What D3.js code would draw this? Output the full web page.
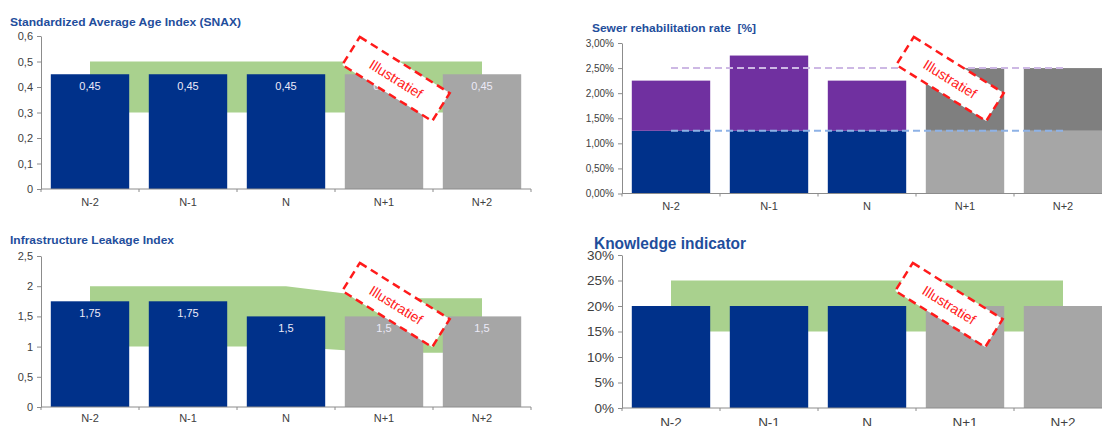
<!DOCTYPE html>
<html>
<head>
<meta charset="utf-8">
<script src="https://cdn.jsdelivr.net/npm/d3@7"></script>
<style>
  body { margin: 0; background: #fff; }
  svg { display: block; font-family: "Liberation Sans", Arial, sans-serif; }
  .title { white-space: pre; }
</style>
</head>
<body>
<svg id="chart" width="1102" height="426"></svg>
<script>
// categories shared by all four panels
const categories = ["N-2", "N-1", "N", "N+1", "N+2"];
const isForecast = [false, false, false, true, true];

// Standardized Average Age Index
const snaxValues = [0.45, 0.45, 0.45, 0.45, 0.45];
const snaxLabels = ["0,45", "0,45", "0,45", "0,45", "0,45"];
const snaxBandLow = [0.3, 0.3, 0.3, 0.3, 0.3];
const snaxBandHigh = [0.5, 0.5, 0.5, 0.5, 0.5];
const snaxTicks = [0, 0.1, 0.2, 0.3, 0.4, 0.5, 0.6];

// Sewer rehabilitation rate (stacked)
const sewerBase = [0.0125, 0.0125, 0.0125, 0.0125, 0.0125];
const sewerTotal = [0.0225, 0.0275, 0.0225, 0.025, 0.025];
const sewerTargetLow = [0.0125, 0.0125, 0.0125, 0.0125, 0.0125];
const sewerTargetHigh = [0.025, 0.025, 0.025, 0.025, 0.025];
const sewerTicks = [0, 0.005, 0.01, 0.015, 0.02, 0.025, 0.03];

// Infrastructure Leakage Index
const iliValues = [1.75, 1.75, 1.5, 1.5, 1.5];
const iliLabels = ["1,75", "1,75", "1,5", "1,5", "1,5"];
const iliBandLow = [1, 1, 1, 0.9, 0.9];
const iliBandHigh = [2, 2, 2, 1.8, 1.8];
const iliTicks = [0, 0.5, 1, 1.5, 2, 2.5];

// Knowledge indicator
const knowValues = [0.2, 0.2, 0.2, 0.2, 0.2];
const knowBandLow = [0.15, 0.15, 0.15, 0.15, 0.15];
const knowBandHigh = [0.25, 0.25, 0.25, 0.25, 0.25];
const knowTicks = [0, 0.05, 0.1, 0.15, 0.2, 0.25, 0.3];

const navy = "#00318a", purple = "#7030a0", lightGray = "#a6a6a6", darkGray = "#7f7f7f";
const green = "#a9d18e", titleBlue = "#1f4e9c", axisGray = "#8c8c8c", textGray = "#404040";

const nl = d3.formatLocale({decimal: ",", thousands: ".", grouping: [3], currency: ["", ""]});

const svg = d3.select("#chart");
svg.append("rect").attr("width", 1102).attr("height", 426).attr("fill", "#fff");

function drawPanel(p) {
  const g = svg.append("g");
  const x = d3.scaleBand().domain(categories).range([p.left, p.right])
    .paddingInner(0.2).paddingOuter(0.1);
  const y = d3.scaleLinear().domain([0, d3.max(p.ticks)]).range([p.bottom, p.top]);
  const cx = (d, i) => x(categories[i]) + x.bandwidth() / 2;

  // target band
  if (p.bandLow) {
    const area = d3.area().x(cx).y0(d => y(d[0])).y1(d => y(d[1]));
    g.append("path").datum(d3.zip(p.bandLow, p.bandHigh))
      .attr("d", area).attr("fill", green);
  }

  // bars (one or more stacked segments)
  p.stack.forEach(seg => {
    g.selectAll(null).data(categories).join("rect")
      .attr("x", d => x(d))
      .attr("width", x.bandwidth())
      .attr("y", (d, i) => y(seg.hi[i]))
      .attr("height", (d, i) => y(seg.lo[i]) - y(seg.hi[i]))
      .attr("fill", (d, i) => isForecast[i] ? seg.fc : seg.color);
  });

  // dashed target lines
  (p.lines || []).forEach(ln => {
    g.append("path").datum(ln.values)
      .attr("d", d3.line().x(cx).y(d => y(d)))
      .attr("fill", "none").attr("stroke", ln.color)
      .attr("stroke-width", 2).attr("stroke-dasharray", "7,4");
  });

  // value labels
  if (p.labels) {
    g.selectAll(null).data(p.labels).join("text")
      .attr("x", (d, i) => cx(d, i))
      .attr("y", (d, i) => y(p.stack[0].hi[i]) + 16)
      .attr("text-anchor", "middle")
      .attr("fill", "#eceaf8")
      .style("font-size", "11px")
      .text(d => d);
  }

  // y axis
  const ya = g.append("g").attr("transform", `translate(${p.left},0)`)
    .call(d3.axisLeft(y).tickValues(p.ticks).tickFormat(p.fmt).tickSize(4).tickSizeOuter(0).tickPadding(4));
  ya.select(".domain").attr("stroke", axisGray);
  ya.selectAll(".tick line").attr("stroke", axisGray);
  ya.selectAll("text").attr("fill", textGray).style("font-size", p.tickFont + "px").style("font-family", "Liberation Sans, Arial, sans-serif");

  // x axis: line plus ticks on category boundaries
  g.append("line").attr("x1", p.left).attr("x2", p.right)
    .attr("y1", y(0)).attr("y2", y(0)).attr("stroke", axisGray);
  g.selectAll(null).data(d3.range(categories.length + 1)).join("line")
    .attr("x1", i => p.left + i * x.step()).attr("x2", i => p.left + i * x.step())
    .attr("y1", y(0)).attr("y2", y(0) + 3).attr("stroke", axisGray);
  const xa = g.append("g").attr("transform", `translate(0,${y(0)})`)
    .call(d3.axisBottom(x).tickSize(0).tickPadding(p.labelPad));
  xa.select(".domain").remove();
  xa.selectAll("text").attr("fill", textGray).style("font-size", p.labelFont + "px").style("font-family", "Liberation Sans, Arial, sans-serif");

  // title
  g.append("text").attr("class", "title").attr("x", p.titleX).attr("y", p.titleY)
    .attr("fill", titleBlue).style("font-weight", "bold")
    .style("font-size", p.titleFont + "px")
    .attr("textLength", p.titleWidth).attr("lengthAdjust", "spacingAndGlyphs")
    .text(p.title);

  // "Illustratief" stamp
  const st = g.append("g").attr("transform", `translate(${p.stampX},${p.stampY}) rotate(32)`);
  st.append("rect").attr("x", -53).attr("y", -16.5).attr("width", 106).attr("height", 33)
    .attr("fill", "#fff").attr("stroke", "#ff1a1a").attr("stroke-width", 2.5)
    .attr("stroke-dasharray", "8,5");
  st.append("text").attr("text-anchor", "middle").attr("dy", "0.35em")
    .attr("fill", "#ff2020").style("font-size", "14px").text("Illustratief");
}

drawPanel({
  title: "Standardized Average Age Index (SNAX)", titleX: 10, titleY: 26, titleFont: 11.5, titleWidth: 231,
  left: 41, right: 531, top: 36, bottom: 189,
  ticks: snaxTicks, fmt: nl.format("~g"), tickFont: 11, labelFont: 11, labelPad: 9,
  bandLow: snaxBandLow, bandHigh: snaxBandHigh,
  stack: [{lo: [0, 0, 0, 0, 0], hi: snaxValues, color: navy, fc: lightGray}],
  labels: snaxLabels, stampX: 396, stampY: 79
});

drawPanel({
  title: "Sewer rehabilitation rate  [%]", titleX: 592, titleY: 32, titleFont: 10.5, titleWidth: 164,
  left: 622, right: 1112, top: 43, bottom: 193.5,
  ticks: sewerTicks, fmt: nl.format(".2%"), tickFont: 10, labelFont: 11, labelPad: 9,
  stack: [
    {lo: [0, 0, 0, 0, 0], hi: sewerBase, color: navy, fc: lightGray},
    {lo: sewerBase, hi: sewerTotal, color: purple, fc: darkGray}
  ],
  lines: [{values: sewerTargetHigh, color: "#cdb8e4"}, {values: sewerTargetLow, color: "#8eb2e6"}],
  stampX: 950, stampY: 79
});

drawPanel({
  title: "Infrastructure Leakage Index", titleX: 10, titleY: 244, titleFont: 11, titleWidth: 164,
  left: 41, right: 531, top: 256, bottom: 407,
  ticks: iliTicks, fmt: nl.format("~g"), tickFont: 11, labelFont: 11, labelPad: 7,
  bandLow: iliBandLow, bandHigh: iliBandHigh,
  stack: [{lo: [0, 0, 0, 0, 0], hi: iliValues, color: navy, fc: lightGray}],
  labels: iliLabels, stampX: 396, stampY: 305
});

drawPanel({
  title: "Knowledge indicator", titleX: 594, titleY: 249, titleFont: 16, titleWidth: 152,
  left: 622, right: 1112, top: 255, bottom: 408,
  ticks: knowTicks, fmt: nl.format(".0%"), tickFont: 13.5, labelFont: 13.5, labelPad: 9,
  bandLow: knowBandLow, bandHigh: knowBandHigh,
  stack: [{lo: [0, 0, 0, 0, 0], hi: knowValues, color: navy, fc: lightGray}],
  stampX: 949, stampY: 305
});
</script>
</body>
</html>
